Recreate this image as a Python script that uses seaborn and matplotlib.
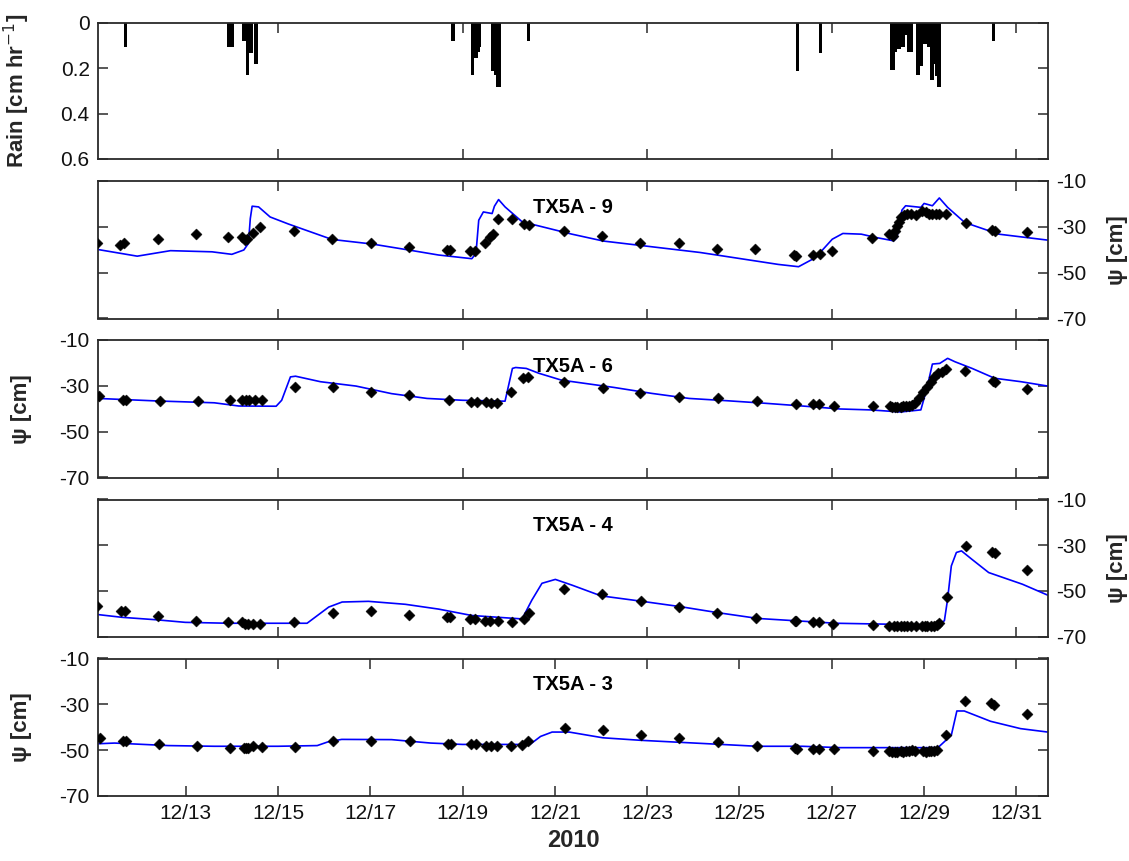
import matplotlib
matplotlib.use("Agg")
import matplotlib.pyplot as plt
import pandas as pd
import seaborn as sns

# ---------------- data (day of December 2010) ----------------
# hourly rainfall rate [cm/hr]
rain_day = [11.68, 13.93, 13.97, 14.00, 14.255, 14.295, 14.335, 14.375, 14.405, 14.515,
            18.78, 19.21, 19.25, 19.29, 19.325, 19.36, 19.64, 19.675, 19.715, 19.755, 19.785,
            20.41, 26.25, 26.74,
            28.29, 28.33, 28.37, 28.41, 28.45, 28.49, 28.53, 28.61, 28.65, 28.69, 28.72,
            28.86, 28.90, 28.94, 28.98, 29.02, 29.05, 29.09, 29.13, 29.16, 29.20, 29.23,
            29.26, 29.30, 29.33, 30.50]
rain_rate = [0.105, 0.105, 0.105, 0.105, 0.075, 0.075, 0.225, 0.128, 0.128, 0.177,
             0.078, 0.225, 0.151, 0.151, 0.127, 0.105, 0.207, 0.207, 0.225, 0.281, 0.281,
             0.078, 0.207, 0.128,
             0.203, 0.203, 0.124, 0.110, 0.110, 0.105, 0.105, 0.050, 0.124, 0.124, 0.124,
             0.225, 0.185, 0.185, 0.090, 0.090, 0.080, 0.105, 0.105, 0.250, 0.178, 0.178,
             0.230, 0.280, 0.280, 0.078]

# TX5A - 9 : simulated (model) and measured pressure head [cm]
m9_day = [11.1, 11.95, 12.67, 13.57, 14.0, 14.26, 14.36, 14.40, 14.44, 14.58,
          14.83, 15.23, 16.17, 17.04, 17.83, 18.48, 19.20, 19.29, 19.35, 19.45,
          19.64, 19.69, 19.78, 19.92, 20.29, 21.37, 22.05, 24.15, 25.84, 26.28,
          26.65, 27.01, 27.24, 27.64, 27.97, 28.34, 28.41, 28.52, 28.60, 28.93,
          29.0, 29.18, 29.33, 29.51, 29.88, 30.62, 31.68]
m9_psi = [-39.9, -42.8, -40.4, -40.9, -42.0, -40.1, -37.2, -26.4, -21.0, -21.3,
          -25.7, -28.8, -35.5, -37.5, -40.1, -42.3, -43.9, -41.6, -27.1, -23.5,
          -24.2, -21.0, -18.1, -21.3, -27.8, -33.2, -36.2, -41.2, -46.4, -47.4,
          -43.4, -35.4, -32.9, -33.2, -34.7, -36.1, -34.7, -22.7, -20.8, -21.5,
          -19.8, -20.8, -17.4, -21.5, -28.1, -33.2, -35.8]
o9_day = [11.08, 11.58, 11.66, 12.40, 13.22, 13.92, 14.22, 14.29, 14.33, 14.46,
          14.62, 15.35, 16.18, 17.01, 17.84, 18.66, 18.73, 19.17, 19.27, 19.49,
          19.60, 19.65, 19.77, 20.07, 20.32, 20.43, 21.19, 22.02, 22.85, 23.68,
          24.51, 25.34, 26.19, 26.23, 26.59, 26.74, 27.01, 27.88, 28.25, 28.32,
          28.38, 28.41, 28.45, 28.49, 28.56, 28.63, 28.71, 28.82, 28.96, 29.04,
          29.11, 29.18, 29.26, 29.33, 29.48, 29.90, 30.47, 30.53, 31.24]
o9_psi = [-37.2, -38.0, -37.2, -35.4, -33.2, -34.5, -34.3, -35.8, -35.1, -32.5,
          -30.0, -32.0, -35.4, -37.2, -38.7, -39.9, -39.9, -40.4, -40.4, -37.2,
          -34.3, -33.2, -26.8, -26.8, -28.6, -29.3, -31.9, -33.9, -37.0, -37.0,
          -39.8, -39.8, -42.3, -42.8, -42.3, -41.7, -40.5, -35.0, -33.2, -33.9,
          -32.0, -29.6, -28.1, -25.9, -24.7, -24.5, -24.5, -24.7, -23.3, -23.7,
          -24.2, -24.5, -24.5, -24.5, -24.5, -28.4, -31.5, -31.8, -32.2]

# TX5A - 6
m6_day = [11.1, 12.38, 13.62, 14.15, 14.96, 15.08, 15.27, 15.38, 15.92, 16.69,
          17.46, 18.23, 19.0, 19.92, 20.08, 20.15, 20.38, 20.65, 21.14, 22.28,
          23.10, 23.91, 24.73, 25.55, 26.36, 27.18, 27.83, 28.49, 28.93, 29.06,
          29.18, 29.34, 29.51, 29.67, 30.04, 30.53, 31.10, 31.68]
m6_psi = [-35.5, -36.6, -37.4, -38.8, -38.9, -36.3, -26.1, -25.8, -28.2, -30.1,
          -33.4, -35.5, -36.3, -36.7, -22.4, -22.0, -22.4, -24.5, -27.5, -30.7,
          -33.3, -35.5, -36.5, -37.6, -38.8, -40.1, -40.5, -41.4, -40.5, -31.1,
          -20.5, -20.2, -18.0, -19.5, -22.4, -26.7, -28.2, -30.1]
o6_day = [11.12, 11.65, 11.71, 12.44, 13.27, 13.95, 14.23, 14.31, 14.38, 14.50,
          14.65, 15.37, 16.19, 17.02, 17.83, 18.71, 19.19, 19.31, 19.50, 19.62,
          19.75, 20.05, 20.31, 20.42, 21.20, 22.04, 22.85, 23.69, 24.54, 25.37,
          26.22, 26.59, 26.73, 27.04, 27.89, 28.26, 28.30, 28.36, 28.42, 28.49,
          28.55, 28.61, 28.67, 28.73, 28.81, 28.90, 28.98, 29.06, 29.14, 29.22,
          29.30, 29.38, 29.48, 29.89, 30.49, 30.54, 31.22]
o6_psi = [-34.5, -36.3, -36.3, -36.7, -36.7, -36.0, -36.3, -36.3, -36.3, -36.3,
          -36.3, -30.7, -30.7, -32.6, -34.1, -36.3, -37.0, -37.0, -37.0, -37.7,
          -37.4, -32.6, -26.5, -26.1, -28.2, -30.8, -33.3, -34.7, -35.5, -36.6,
          -38.1, -37.9, -37.9, -38.7, -38.8, -38.8, -39.1, -39.1, -39.1, -39.1,
          -39.0, -38.8, -38.6, -38.4, -37.6, -35.5, -32.5, -30.4, -28.2, -26.0,
          -24.5, -23.8, -22.8, -23.4, -27.7, -28.5, -31.4]

# TX5A - 4
m4_day = [11.1, 11.62, 12.38, 12.99, 13.93, 14.87, 15.63, 16.10, 16.39, 16.96,
          17.76, 18.48, 19.20, 20.29, 20.50, 20.72, 21.01, 21.37, 22.0, 22.82,
          23.71, 24.51, 25.40, 26.21, 27.09, 28.19, 29.29, 29.44, 29.51, 29.59,
          29.70, 29.81, 30.03, 30.40, 31.13, 31.68]
m4_psi = [-60.4, -61.6, -62.7, -63.8, -64.2, -64.2, -64.2, -57.1, -54.9, -54.6,
          -55.9, -58.0, -60.8, -62.3, -54.1, -46.7, -45.0, -47.5, -52.2, -54.4,
          -56.9, -59.5, -62.1, -63.1, -64.2, -64.6, -65.0, -63.1, -53.6, -39.1,
          -33.2, -32.5, -36.1, -42.0, -47.1, -51.9]
o4_day = [11.08, 11.60, 11.68, 12.40, 13.22, 13.92, 14.22, 14.29, 14.36, 14.46,
          14.62, 15.35, 16.19, 17.01, 17.84, 18.66, 18.73, 19.17, 19.27, 19.49,
          19.60, 19.77, 20.07, 20.32, 20.43, 21.19, 22.02, 22.86, 23.69, 24.51,
          25.35, 26.21, 26.23, 26.59, 26.72, 27.03, 27.90, 28.25, 28.34, 28.41,
          28.49, 28.56, 28.63, 28.71, 28.82, 28.96, 29.02, 29.07, 29.15, 29.22,
          29.29, 29.33, 29.50, 29.90, 30.47, 30.53, 31.24]
o4_psi = [-56.8, -58.9, -58.9, -61.1, -63.0, -63.5, -63.8, -64.5, -64.5, -64.5,
          -64.5, -63.8, -59.8, -58.9, -60.4, -61.6, -61.6, -62.3, -62.3, -63.0,
          -63.0, -63.0, -63.8, -62.3, -59.6, -49.0, -51.4, -54.4, -56.9, -59.8,
          -62.0, -63.1, -63.4, -63.6, -63.6, -64.6, -65.0, -65.6, -65.6, -65.6,
          -65.6, -65.6, -65.6, -65.6, -65.6, -65.6, -65.6, -65.6, -65.6, -65.6,
          -65.0, -63.9, -52.9, -30.3, -32.9, -33.5, -40.8]

# TX5A - 3
m3_day = [11.1, 11.46, 12.62, 13.62, 15.0, 15.85, 16.08, 16.38, 17.46, 18.31,
          19.0, 20.46, 20.69, 20.94, 21.31, 22.04, 22.86, 24.32, 25.38, 26.36,
          27.18, 29.30, 29.59, 29.71, 29.87, 30.44, 31.09, 31.68]
m3_psi = [-47.2, -46.9, -48.0, -48.3, -48.3, -48.0, -46.4, -45.3, -45.4, -46.9,
          -47.5, -47.5, -44.0, -42.1, -42.1, -44.6, -45.7, -47.2, -48.3, -48.3,
          -48.9, -48.9, -43.5, -32.9, -32.9, -37.4, -40.6, -42.1]
o3_day = [11.14, 11.65, 11.71, 12.43, 13.24, 13.95, 14.27, 14.31, 14.35, 14.46,
          14.65, 15.37, 16.19, 17.02, 17.85, 18.69, 18.74, 19.19, 19.29, 19.50,
          19.62, 19.75, 20.05, 20.29, 20.42, 21.21, 22.04, 22.87, 23.70, 24.54,
          25.37, 26.20, 26.24, 26.59, 26.73, 27.04, 27.90, 28.24, 28.30, 28.36,
          28.42, 28.49, 28.55, 28.61, 28.67, 28.73, 28.80, 28.98, 29.04, 29.10,
          29.16, 29.22, 29.28, 29.48, 29.89, 30.44, 30.52, 31.22]
o3_psi = [-44.8, -46.0, -46.0, -47.5, -48.2, -49.1, -49.1, -49.1, -49.1, -48.3,
          -48.6, -48.6, -46.2, -46.2, -46.0, -47.5, -47.5, -47.5, -47.5, -48.3,
          -48.3, -48.3, -48.3, -47.9, -46.0, -40.2, -41.4, -43.5, -44.7, -46.6,
          -48.3, -48.9, -49.3, -49.7, -49.7, -49.7, -50.4, -50.5, -50.6, -50.8,
          -50.6, -50.5, -50.8, -50.5, -50.3, -50.0, -50.5, -50.5, -50.6, -50.5,
          -50.5, -50.3, -49.8, -43.5, -28.7, -29.4, -30.1, -34.1]

panel_names = ["TX5A - 9", "TX5A - 6", "TX5A - 4", "TX5A - 3"]
panel_sides = ["right", "left", "right", "left"]

rain_ticks = [0, 0.2, 0.4, 0.6]
rain_ticklabels = ["0", "0.2", "0.4", "0.6"]
psi_ticks = [-70, -50, -30, -10]
psi_ticklabels = ["-70", "-50", "-30", "-10"]
minor_day_ticks = [15, 19, 23, 27, 31]
day_ticks = [13, 15, 17, 19, 21, 23, 25, 27, 29, 31]
day_ticklabels = ["12/13", "12/15", "12/17", "12/19", "12/21",
                  "12/23", "12/25", "12/27", "12/29", "12/31"]
x_range = (11.1, 31.685)

# ---------------- figure ----------------
sns.set_theme(style="ticks")
plt.rcParams["font.family"] = ["Liberation Sans", "DejaVu Sans"]
plt.rcParams["axes.unicode_minus"] = False

W, H = 1129, 861
fig = plt.figure(figsize=(W / 100, H / 100), dpi=100)
x0, x1 = 98, 1048
rows = [(22.5, 159), (181, 318.5), (340, 477.5), (499.5, 636.5), (658.5, 796)]
axes = [fig.add_axes([x0 / W, 1 - b / H, (x1 - x0) / W, (b - t) / H]) for t, b in rows]

edge = "#2a2a2a"
tick_fs = 15
label_fs = 16


def style_axis(ax):
    for s in ax.spines.values():
        s.set_visible(True)
        s.set_color(edge)
        s.set_linewidth(1.3)
    ax.tick_params(direction="in", length=7, width=1.1, color=edge,
                   top=True, bottom=True, left=True, right=True,
                   labelsize=tick_fs, labelcolor="#111111", pad=6)
    ax.set_xlim(*x_range)
    ax.grid(False)


# rain (hourly bars hanging from the top of an inverted axis)
ax = axes[0]
rain_df = pd.DataFrame({"day": rain_day, "rate": rain_rate})
ax.bar(rain_df["day"], rain_df["rate"], width=0.05, color="black",
       edgecolor="black", linewidth=0.6, antialiased=False)
style_axis(ax)
ax.set_ylim(0.6, 0)
ax.set_yticks(rain_ticks)
ax.set_yticklabels(rain_ticklabels)
ax.set_xticks(minor_day_ticks)
ax.tick_params(labelbottom=False)
ax.set_ylabel("Rain [cm hr$^{-1}$]", fontsize=label_fs, fontweight="bold")
ax.yaxis.set_label_coords(-0.069, 0.5)

models = [(m9_day, m9_psi), (m6_day, m6_psi), (m4_day, m4_psi), (m3_day, m3_psi)]
obs = [(o9_day, o9_psi), (o6_day, o6_psi), (o4_day, o4_psi), (o3_day, o3_psi)]

for i, ax in enumerate(axes[1:]):
    mdf = pd.DataFrame({"day": models[i][0], "psi": models[i][1]})
    odf = pd.DataFrame({"day": obs[i][0], "psi": obs[i][1]})
    sns.lineplot(data=mdf, x="day", y="psi", ax=ax, color="#0000ff",
                 linewidth=1.2, sort=False, zorder=2)
    sns.scatterplot(data=odf, x="day", y="psi", ax=ax, marker="D", s=32,
                    color="black", edgecolor="black", linewidth=0.3, zorder=3)
    style_axis(ax)
    ax.set_ylim(-70, -10)
    ax.set_yticks(psi_ticks)
    ax.set_yticklabels(psi_ticklabels)
    ax.set_xlabel("")
    ax.text(0.5, 0.81, panel_names[i], transform=ax.transAxes, ha="center",
            va="center", fontsize=14.5, fontweight="bold", color="black")
    if panel_sides[i] == "right":
        ax.tick_params(labelleft=False, labelright=True)
        ax.yaxis.set_label_position("right")
        ax.set_ylabel("\u03c8 [cm]", fontsize=label_fs, fontweight="bold",
                      rotation=90)
        ax.yaxis.set_label_coords(1.062, 0.5)
    else:
        ax.set_ylabel("\u03c8 [cm]", fontsize=label_fs, fontweight="bold")
        ax.yaxis.set_label_coords(-0.069, 0.5)
    if i < 3:
        ax.set_xticks(minor_day_ticks)
        ax.tick_params(labelbottom=False)
    else:
        ax.set_xticks(day_ticks)
        ax.set_xticklabels(day_ticklabels)
        ax.set_xlabel("2010", fontsize=17, fontweight="bold", labelpad=4)

fig.savefig("out.png", dpi=100, facecolor="white")
